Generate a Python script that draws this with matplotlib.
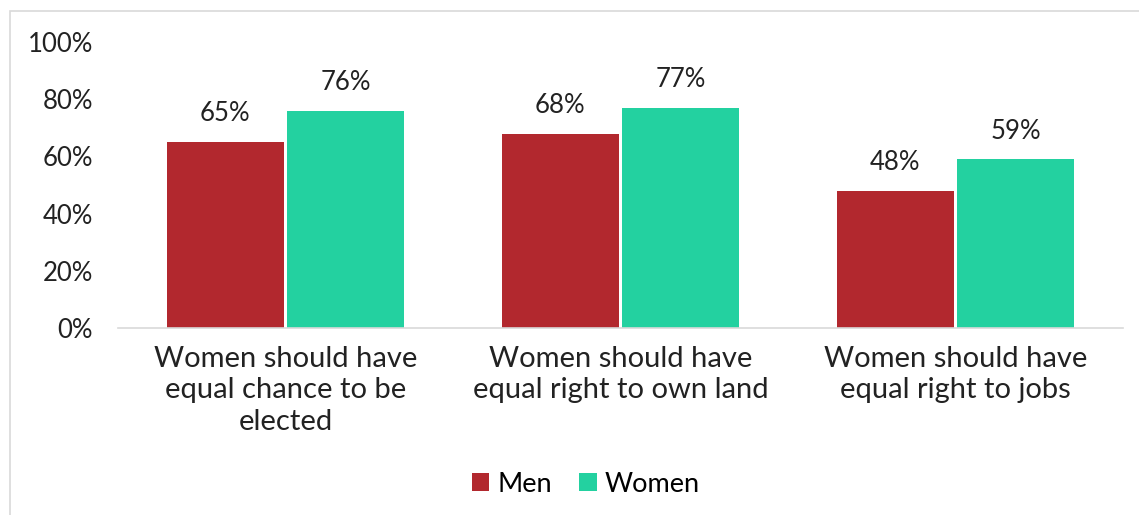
import matplotlib
matplotlib.use('Agg')
import matplotlib.pyplot as plt
import numpy as np
from matplotlib.patches import Rectangle

categories = ['Women should have\nequal chance to be\nelected',
              'Women should have\nequal right to own land',
              'Women should have\nequal right to jobs']
men = [65, 68, 48]
women = [76, 77, 59]
yticks = [0, 20, 40, 60, 80, 100]

c_men = '#B2282E'
c_women = '#23D1A0'

plt.rcParams['font.family'] = ['Lato', 'DejaVu Sans']

fig = plt.figure(figsize=(11.39, 5.15), dpi=100)
W, H = 1139, 515
# outer chart frame
fig.patches.append(Rectangle((10 / W, -0.1), 1.2, (515 - 11) / H + 0.1,
                             transform=fig.transFigure, fill=False,
                             edgecolor='#D9D9D9', linewidth=1.2))

ax = fig.add_axes([118 / W, 1 - 328 / H, (1123 - 118) / W, (328 - 42) / H])
x = np.arange(len(categories))
bw = 0.35
b1 = ax.bar(x - 0.18, men, bw, color=c_men, label='Men')
b2 = ax.bar(x + 0.18, women, bw, color=c_women, label='Women')

for bars in (b1, b2):
    for b in bars:
        ax.text(b.get_x() + b.get_width() / 2, b.get_height() + 5.5,
                f'{b.get_height():.0f}%', ha='center', va='bottom',
                fontsize=18.5, color='#222222')

ax.set_xlim(-0.5, 2.5)
ax.set_ylim(0, 100)
ax.set_yticks(yticks)
ax.set_yticklabels([f'{v}%' for v in yticks])
ax.set_xticks(x)
ax.set_xticklabels(categories, linespacing=1.25)
ax.tick_params(axis='y', length=0, labelsize=18.5, colors='#222222', pad=18)
ax.tick_params(axis='x', length=0, labelsize=21, colors='#222222', pad=13)
for s in ['top', 'right', 'left']:
    ax.spines[s].set_visible(False)
ax.spines['bottom'].set_color('#D9D9D9')
ax.spines['bottom'].set_linewidth(1.2)

fig.legend(handles=[b1, b2], labels=['Men', 'Women'], loc='center',
           bbox_to_anchor=(586 / W, 1 - 484 / H), ncol=2, frameon=False,
           fontsize=19.5, handlelength=0.65, handleheight=0.65,
           handletextpad=0.3, columnspacing=1.0)

fig.savefig('out.png', dpi=100, facecolor='white')
